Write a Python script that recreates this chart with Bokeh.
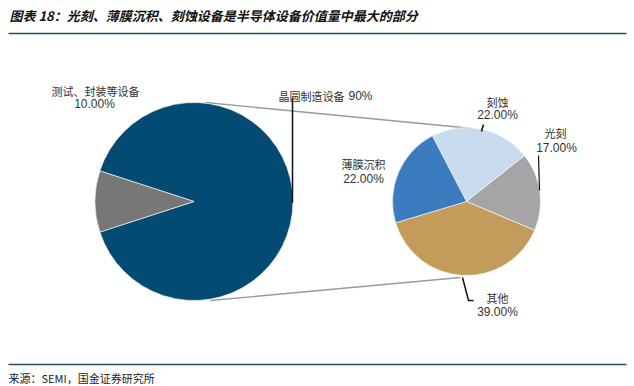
import numpy as np
from bokeh.plotting import figure
from bokeh.models import Range1d, Label, ColumnDataSource
from bokeh.embed import file_html
from bokeh.resources import INLINE

# ---------------- data ----------------
left_labels = ["晶圆制造设备", "测试、封装等设备"]
left_values = [90, 10]
left_colors = ["#044B73", "#777777"]

right_labels = ["刻蚀", "光刻", "其他", "薄膜沉积"]
right_values = [22, 17, 39, 22]
right_colors = ["#C9DCEE", "#A5A5A5", "#C39B5B", "#3B7CBF"]

title = "图表 18：光刻、薄膜沉积、刻蚀设备是半导体设备价值量中最大的部分"
source_text = "来源：SEMI，国金证券研究所"

W, H = 634, 386


def Y(py):
    return H - py


p = figure(width=W, height=H, x_range=Range1d(0, W), y_range=Range1d(0, H),
           x_axis_type=None, y_axis_type=None, toolbar_location=None,
           output_backend="svg", min_border=0)
p.grid.visible = False
p.outline_line_color = None
p.background_fill_color = "white"


def pie(cx, cy, r, values, colors, start_cw):
    vals = np.array(values, dtype=float)
    frac = vals / vals.sum() * 360.0
    ends = start_cw + np.cumsum(frac)
    starts = ends - frac
    src = ColumnDataSource(dict(
        s=np.radians(90 - starts), e=np.radians(90 - ends), color=colors))
    p.wedge(x=cx, y=cy, radius=r, start_angle="s", end_angle="e",
            direction="clock", fill_color="color", line_color="white",
            line_width=0.6, source=src)
    return starts, ends


# connector lines (behind pies)
p.line([205, 472], [Y(102), Y(128)], line_color="#9A9A9A", line_width=1.3)
p.line([210, 460], [Y(300), Y(277)], line_color="#9A9A9A", line_width=1.3)

pie(193.5, Y(201), 99, left_values, left_colors, 288)
pie(466, Y(201), 74, right_values, right_colors, -27.5)

# leader lines
black = "#111111"
p.line([292, 292], [Y(97), Y(202)], line_color=black, line_width=1.5)
p.line([483, 481], [Y(124), Y(131)], line_color=black, line_width=1.5)
p.line([538, 539], [Y(155), Y(190)], line_color=black, line_width=1.2)
p.line([462, 468, 473], [Y(277), Y(300), Y(300)], line_color=black, line_width=1.5)

cjk = "Noto Sans CJK SC"
num = "Liberation Sans"
tc = "#333333"


def lab(x, y, t, font, size, align="center"):
    p.add_layout(Label(x=x, y=Y(y), text=t, text_font=font, text_font_size=size,
                       text_color=tc, text_align=align, text_baseline="middle"))


lab(95, 90, left_labels[1], cjk, "11px")
lab(94, 103, f"{left_values[1]:.2f}%", num, "12px")
lab(278, 95, left_labels[0], cjk, "11px", "left")
lab(348, 95, f"{left_values[0]}%", num, "12px", "left")

lab(497, 101, right_labels[0], cjk, "11px")
lab(497, 114, f"{right_values[0]:.2f}%", num, "12px")
lab(555, 132, right_labels[1], cjk, "11px")
lab(556, 147, f"{right_values[1]:.2f}%", num, "12px")
lab(363, 163, right_labels[3], cjk, "11px")
lab(363, 178, f"{right_values[3]:.2f}%", num, "12px")
lab(497, 297, right_labels[2], cjk, "11px")
lab(497, 311, f"{right_values[2]:.2f}%", num, "12px")

# title and source
p.add_layout(Label(x=9, y=Y(15), text=title, text_font=cjk, text_font_size="13px",
                   text_font_style="bold italic", text_color="#111111",
                   text_baseline="middle"))
p.line([8, 626], [Y(33), Y(33)], line_color="#24505F", line_width=1.5)
p.line([8, 626], [Y(364), Y(364)], line_color="#24505F", line_width=1.5)
p.add_layout(Label(x=8, y=Y(377), text=source_text, text_font=cjk, text_font_size="11px",
                   text_color="#222222", text_baseline="middle"))

open("out.html", "w").write(file_html(p, INLINE))
